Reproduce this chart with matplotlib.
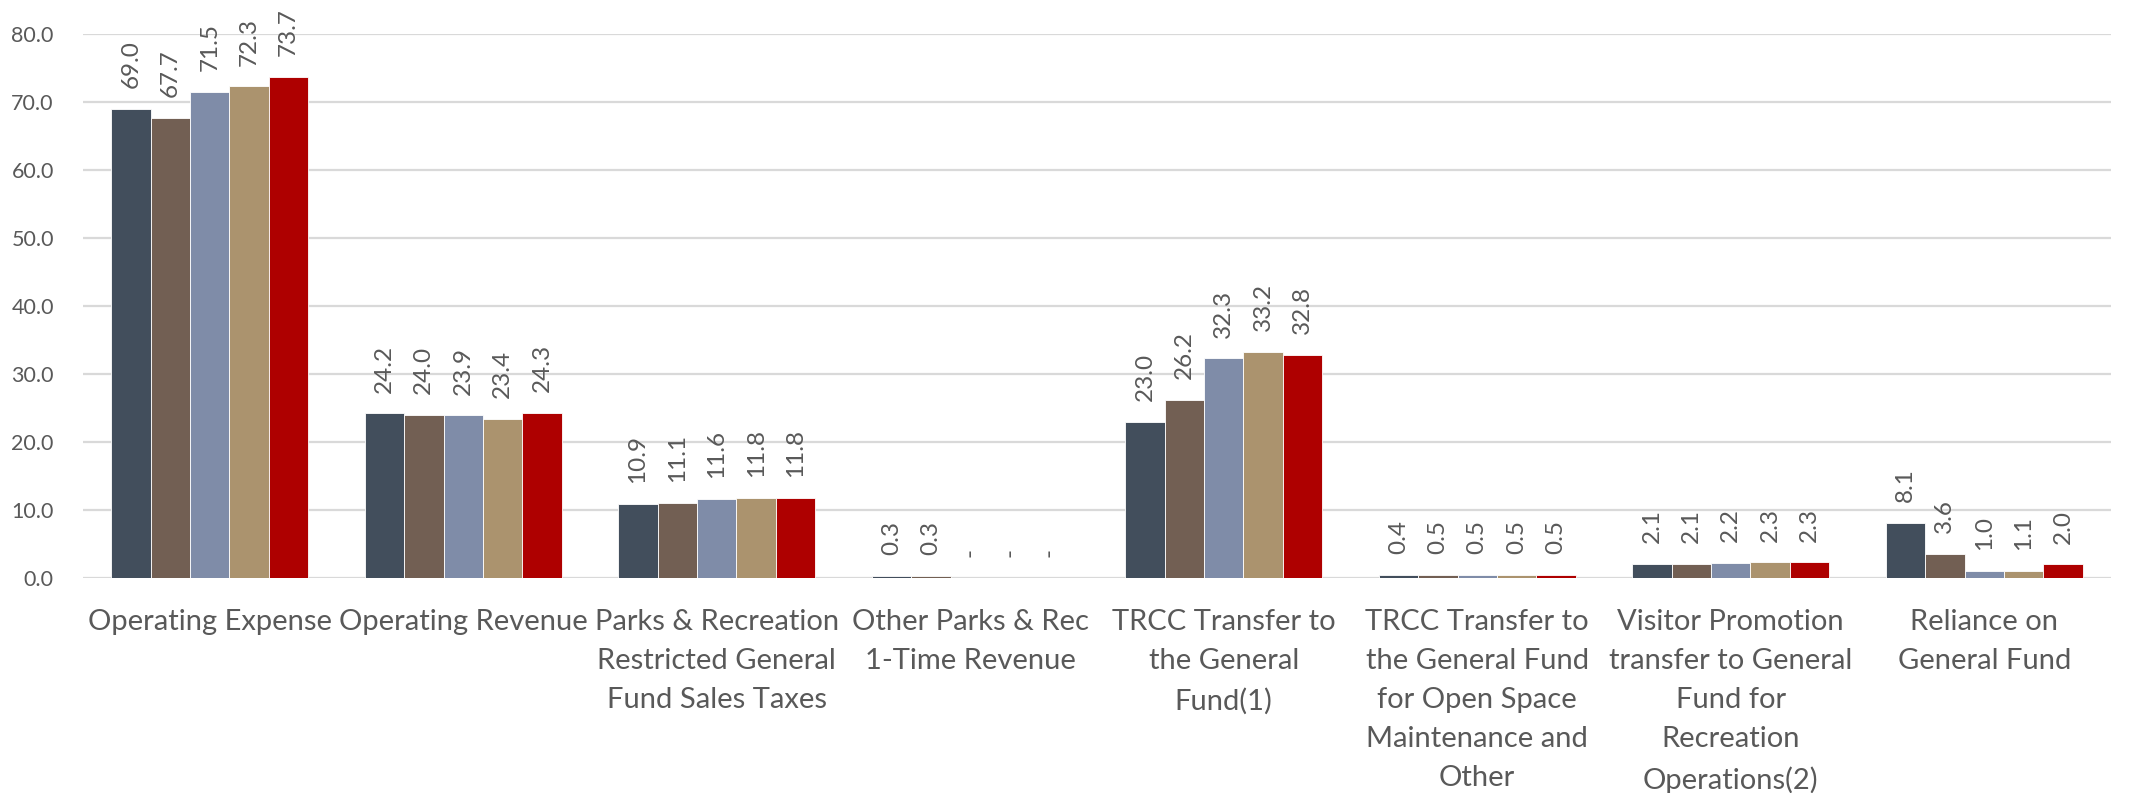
import matplotlib
matplotlib.use("Agg")
import matplotlib.pyplot as plt
import numpy as np

categories = [
    "Operating Expense",
    "Operating Revenue",
    "Parks & Recreation\nRestricted General\nFund Sales Taxes",
    "Other Parks & Rec\n1-Time Revenue",
    "TRCC Transfer to\nthe General\nFund(1)",
    "TRCC Transfer to\nthe General Fund\nfor Open Space\nMaintenance and\nOther",
    "Visitor Promotion\ntransfer to General\nFund for\nRecreation\nOperations(2)",
    "Reliance on\nGeneral Fund",
]
series1 = [69.0, 24.2, 10.9, 0.3, 23.0, 0.4, 2.1, 8.1]
series2 = [67.7, 24.0, 11.1, 0.3, 26.2, 0.5, 2.1, 3.6]
series3 = [71.5, 23.9, 11.6, 0.0, 32.3, 0.5, 2.2, 1.0]
series4 = [72.3, 23.4, 11.8, 0.0, 33.2, 0.5, 2.3, 1.1]
series5 = [73.7, 24.3, 11.8, 0.0, 32.8, 0.5, 2.3, 2.0]
yticks = [0, 10, 20, 30, 40, 50, 60, 70, 80]

all_series = [series1, series2, series3, series4, series5]
colors = ["#424E5C", "#725F53", "#7F8CA8", "#AB936E", "#AE0000"]

plt.rcParams['font.family'] = ['Lato', 'DejaVu Sans']
txt = "#595959"

fig = plt.figure(figsize=(21.38, 7.93), dpi=100)
ax = fig.add_axes([83/2138, 1 - 578/793, (2111-83)/2138, (578-34)/793])

x = np.arange(len(categories))
bw = 0.1554
for i, (vals, c) in enumerate(zip(all_series, colors)):
    pos = x + (i - 2) * bw
    bars = ax.bar(pos, vals, width=bw, color=c, edgecolor="#FFFFFF", linewidth=0.6, zorder=3)
    labels = ["-" if v == 0 else f"{v:.1f}" for v in vals]
    ax.bar_label(bars, labels=labels, rotation=90, padding=15, fontsize=17.5, color=txt)

ax.set_xlim(-0.5, len(categories) - 0.5)
ax.set_ylim(0, 80)
ax.set_yticks(yticks)
ax.set_yticklabels([f"{v:.1f}" for v in yticks], fontsize=15.5, color=txt)
ax.set_xticks(x)
ax.set_xticklabels(categories, fontsize=21, color=txt, linespacing=1.63)
ax.tick_params(axis="both", length=0)
ax.tick_params(axis="y", pad=21)
ax.tick_params(axis="x", pad=22)
for s in ax.spines.values():
    s.set_visible(False)
ax.yaxis.grid(True, color="#D9D9D9", linewidth=1.6, zorder=0)
ax.set_axisbelow(True)

fig.savefig("out.png", dpi=100, facecolor="white")
